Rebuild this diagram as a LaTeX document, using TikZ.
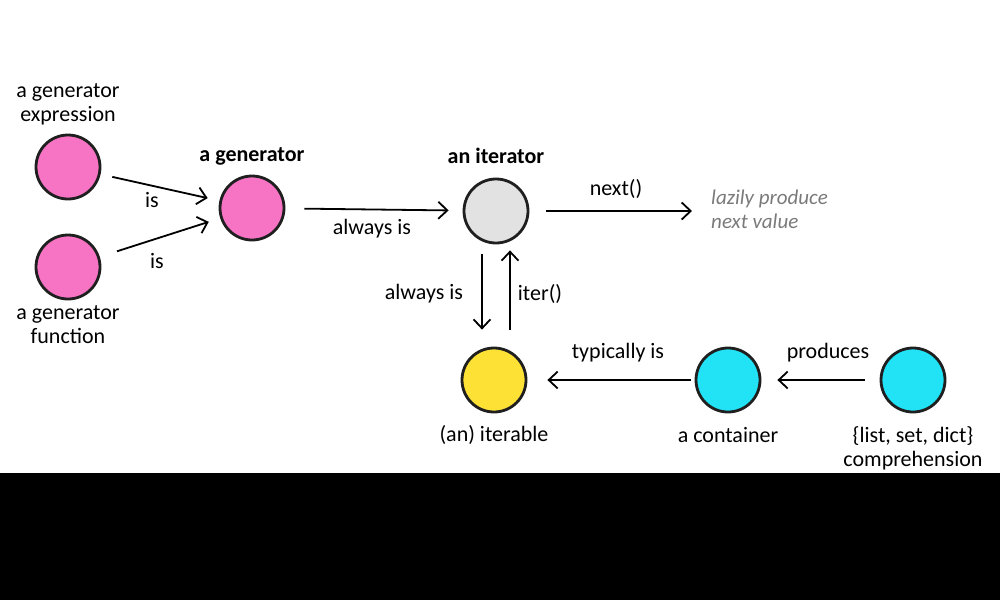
\documentclass[tikz,border=0pt]{standalone}
\usepackage{fontspec}
\setmainfont{Carlito}
\usetikzlibrary{arrows.meta}
\definecolor{genpink}{HTML}{F774C4}
\definecolor{itergray}{HTML}{E2E2E2}
\definecolor{iteryellow}{HTML}{FDE135}
\definecolor{contcyan}{HTML}{22E2F6}
\definecolor{hintgray}{HTML}{7A7A7A}
\tikzset{
  dot/.style={circle, draw=black!88, line width=2.8pt, minimum size=64pt, inner sep=0pt},
  txt/.style={font=\fontsize{22}{24}\selectfont, align=center, inner sep=0pt},
  bold/.style={txt, font=\fontsize{22}{24}\selectfont\bfseries},
  hint/.style={txt, font=\fontsize{21}{24}\selectfont\itshape, text=hintgray, align=left, anchor=west},
  arr/.style={->, line width=1.8pt},
}

\begin{document}
\begin{tikzpicture}[x=1pt, y=-1pt, >={Straight Barb[length=9pt,width=17pt]}]
  \useasboundingbox (0,0) rectangle (1000,600);
  \fill[black] (0,473) rectangle (1000,600);
  % circles
  \node[dot, fill=genpink] (expr) at (68,167) {};
  \node[dot, fill=genpink] (func) at (68,267) {};
  \node[dot, fill=genpink] (gen) at (252,208) {};
  \node[dot, fill=itergray] (iter) at (496,211) {};
  \node[dot, fill=iteryellow] (itbl) at (494,380) {};
  \node[dot, fill=contcyan] (cont) at (728,380) {};
  \node[dot, fill=contcyan] (comp) at (913,380) {};
  \coordinate (nextval) at (692,211);
  % names
  \node[txt] (exprname) at (68,104) {a generator\\expression};
  \node[txt] (funcname) at (68,325) {a generator\\function};
  \node[bold] (genname) at (252,156) {a generator};
  \node[bold] (itername) at (496,156) {an iterator};
  \node[txt] (itblname) at (494,435) {(an) iterable};
  \node[txt] (contname) at (728,435) {a container};
  \node[txt] (compname) at (913,448) {\{list, set, dict\}\\comprehension};
  \node[hint] (lazy) at (711,209) {lazily produce\\next value};
  % arrows
  \draw[arr, shorten <=12pt, shorten >=12pt] (expr) -- (gen);
  \draw[arr, shorten <=18pt, shorten >=12pt] (func) -- (gen);
  \draw[arr, shorten <=19pt, shorten >=14pt] (gen) -- (iter);
  \draw[arr, shorten <=17pt] (iter) -- (nextval);
  \draw[arr, shorten <=10pt, shorten >=17pt] ([xshift=-14pt]iter.south) -- ([xshift=-12pt]itbl.north);
  \draw[arr, shorten <=17pt, shorten >=6pt] ([xshift=16pt]itbl.north) -- ([xshift=14pt]iter.south);
  \draw[arr, shorten <=4pt, shorten >=20pt] (cont) -- (itbl);
  \draw[arr, shorten <=15pt, shorten >=16pt] (comp) -- (cont);
  % arrow labels
  \node[txt] (isexpr) at (152,200) {is};
  \node[txt] (isfunc) at (157,261) {is};
  \node[txt] (alwaysgen) at (372,229) {always is};
  \node[txt] (nextlbl) at (616,189) {next()};
  \node[txt] (alwaysitbl) at (424,294) {always is};
  \node[txt] (iterlbl) at (540,294) {iter()};
  \node[txt] (typlbl) at (618,353) {typically is};
  \node[txt] (prodlbl) at (828,353) {produces};
\end{tikzpicture}
\end{document}
